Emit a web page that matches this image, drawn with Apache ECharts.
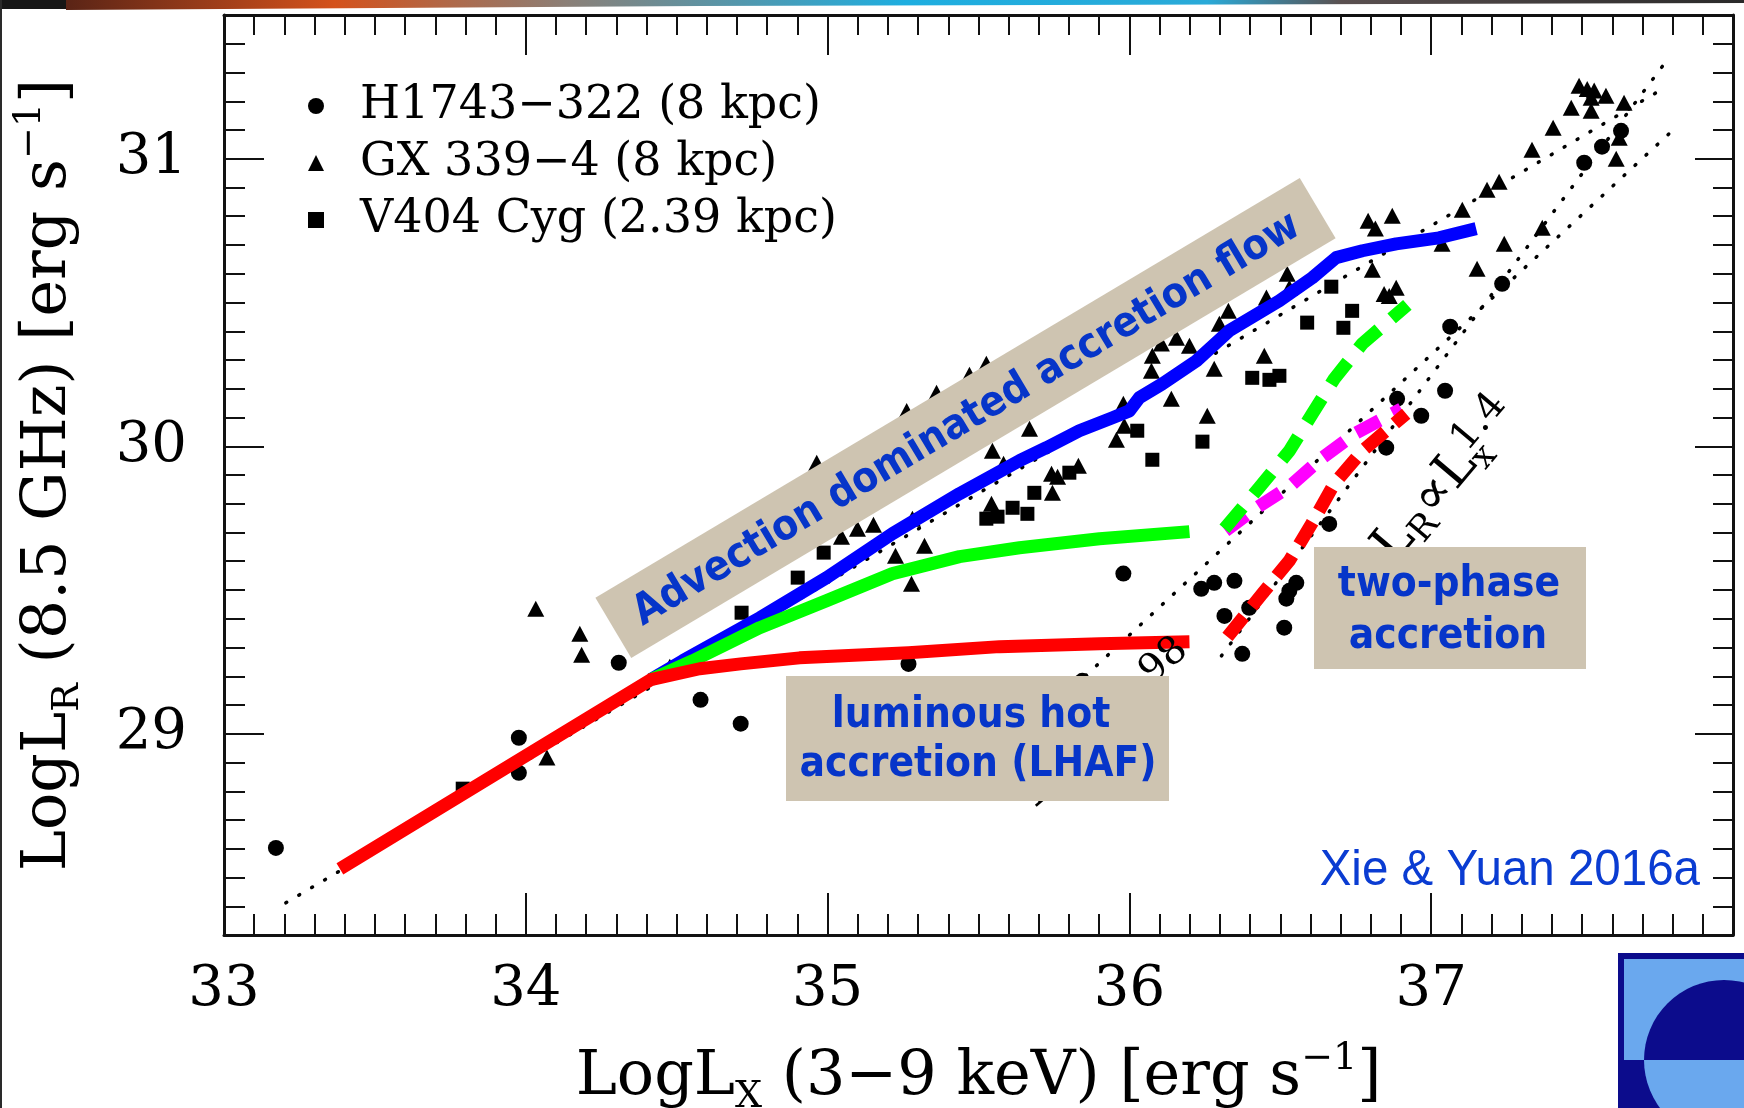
<!DOCTYPE html>
<html>
<head>
<meta charset="utf-8">
<script src="https://cdn.jsdelivr.net/npm/echarts@6/dist/echarts.min.js"></script>
<style>
  html, body { margin: 0; padding: 0; background: #ffffff; }
  #chart { width: 1744px; height: 1108px; }
</style>
</head>
<body>
<div id="chart"></div>
<script>
// ---- axis ranges and tick labels ----
const xRange = [33, 38];
const yRange = [28.3, 31.5];
const xTickLabels = [33, 34, 35, 36, 37];
const yTickLabels = [29, 30, 31];

// ---- observed sources: [log Lx, log Lr] ----
const h1743 = [
  [33.172, 28.603], [33.977, 28.986], [33.977, 28.864], [34.308, 29.247], [34.579, 29.118],
  [34.712, 29.035], [35.268, 29.243], [35.980, 29.557], [35.844, 29.184], [36.238, 29.504],
  [36.281, 29.525], [36.348, 29.532], [36.315, 29.410], [36.397, 29.438], [36.374, 29.278],
  [36.553, 29.525], [36.530, 29.497], [36.520, 29.470], [36.513, 29.369], [36.662, 29.730],
  [36.851, 29.995], [36.887, 30.165], [36.967, 30.106], [37.046, 30.193], [37.063, 30.416],
  [37.235, 30.565], [37.507, 30.986], [37.566, 31.042], [37.629, 31.097]
];
const gx339 = [
  [34.070, 28.917], [34.033, 29.435], [34.179, 29.348], [34.185, 29.275], [34.477, 29.233],
  [35.046, 29.685], [35.099, 29.713], [35.152, 29.727], [35.225, 29.619], [35.281, 29.748],
  [35.278, 29.522], [35.321, 29.654], [35.543, 29.800], [35.546, 29.984], [35.583, 29.939],
  [35.669, 30.061], [35.745, 29.838], [35.742, 29.904], [35.762, 29.894], [35.831, 29.932],
  [35.957, 30.023], [35.983, 30.071], [35.980, 30.148], [36.073, 30.263], [36.076, 30.315],
  [36.106, 30.357], [36.156, 30.377], [36.199, 30.350], [36.139, 30.165], [36.258, 30.106],
  [36.281, 30.270], [36.298, 30.426], [36.328, 30.471], [36.447, 30.315], [36.454, 30.517],
  [36.523, 30.600], [36.530, 30.551], [36.805, 30.614], [36.791, 30.784], [36.815, 30.757],
  [36.871, 30.802], [36.844, 30.530], [36.884, 30.551], [36.861, 30.523], [37.036, 30.704],
  [37.103, 30.823], [37.185, 30.892], [37.225, 30.920], [37.334, 31.031], [37.404, 31.108],
  [37.464, 31.177], [37.530, 31.167], [37.490, 31.254], [37.517, 31.243], [37.540, 31.237],
  [37.579, 31.219], [37.530, 31.212], [37.639, 31.195], [37.613, 31.000], [37.623, 31.073],
  [37.368, 30.760], [37.242, 30.704], [37.152, 30.617],
  [34.964, 29.943], [35.262, 30.123], [35.361, 30.186], [35.470, 30.249], [35.526, 30.287]
];
const v404 = [
  [33.791, 28.809], [34.715, 29.421], [34.901, 29.543], [34.987, 29.630], [35.526, 29.748],
  [35.563, 29.755], [35.613, 29.786], [35.662, 29.765], [35.685, 29.838], [35.801, 29.908],
  [36.026, 30.054], [36.076, 29.953], [36.242, 30.016], [36.407, 30.238], [36.464, 30.231],
  [36.497, 30.245], [36.589, 30.430], [36.709, 30.412], [36.738, 30.471], [36.669, 30.555]
];

// ---- model tracks ----
const hotFlowRed = [
  [33.384, 28.530], [34.414, 29.188], [34.576, 29.226], [34.712, 29.243], [34.907, 29.264],
  [35.268, 29.282], [35.570, 29.303], [35.901, 29.313], [36.199, 29.320]
];
const adafBlue = [
  [34.414, 29.188], [34.520, 29.254], [34.775, 29.403], [34.997, 29.543], [35.215, 29.696],
  [35.437, 29.835], [35.636, 29.950], [35.725, 29.995], [35.834, 30.054], [35.944, 30.099],
  [36.000, 30.123], [36.033, 30.169], [36.109, 30.217], [36.222, 30.297], [36.331, 30.402],
  [36.497, 30.506], [36.606, 30.586], [36.685, 30.656], [36.772, 30.680], [36.884, 30.704],
  [37.026, 30.725], [37.149, 30.757]
];
const hotFlowGreen = [
  [34.414, 29.188], [34.553, 29.254], [34.775, 29.369], [34.997, 29.463], [35.215, 29.557],
  [35.437, 29.616], [35.636, 29.647], [35.901, 29.678], [36.199, 29.703]
];
const twoPhaseGreen = [
  [36.315, 29.713], [36.430, 29.856], [36.530, 29.984], [36.606, 30.113], [36.679, 30.235],
  [36.772, 30.357], [36.921, 30.492]
];
const twoPhaseMagenta = [
  [36.318, 29.706], [36.407, 29.776], [36.530, 29.859], [36.639, 29.960], [36.752, 30.047],
  [36.901, 30.130]
];
const twoPhaseRed = [
  [36.325, 29.337], [36.440, 29.487], [36.530, 29.602], [36.606, 29.734], [36.679, 29.870],
  [36.772, 29.984], [36.917, 30.113]
];

// ---- empirical correlations (dotted) ----
const corrStandard = [[33.205, 28.412], [37.778, 31.250]];
const corr098 = [[35.600, 28.953], [37.788, 31.087]];
const corr14 = [[36.305, 29.271], [37.785, 31.348]];

const SERIF = 'DejaVu Serif';
const SANS = 'DejaVu Sans';
const BOX_FILL = '#cec4b1';
const NOTE_BLUE = '#0635c9';

const chart = echarts.init(document.getElementById('chart'), null, { renderer: 'canvas' });

const titleRich = {
  a: { fontFamily: SERIF, fontSize: 62, lineHeight: 76, color: '#000' },
  sub: { fontFamily: SERIF, fontSize: 38, lineHeight: 38, verticalAlign: 'bottom', color: '#000' },
  sup: { fontFamily: SERIF, fontSize: 38, lineHeight: 38, verticalAlign: 'top', color: '#000' }
};

const frameLine = { color: '#111', width: 3 };
const tickLine = { color: '#111', width: 2 };

function xAxisDef(pos, major, minor, withLabels) {
  return {
    type: 'value', gridIndex: 0, position: pos,
    min: xRange[0], max: xRange[1], interval: 1,
    axisLine: { show: true, onZero: false, lineStyle: frameLine },
    axisTick: { show: true, inside: true, length: major, lineStyle: tickLine },
    minorTick: { show: true, splitNumber: 10, length: minor, lineStyle: tickLine },
    splitLine: { show: false }, minorSplitLine: { show: false },
    axisLabel: withLabels ? {
      show: true, margin: 27, fontFamily: SERIF, fontSize: 56, color: '#000',
      formatter: v => (xTickLabels.indexOf(Math.round(v)) >= 0 && Math.abs(v - Math.round(v)) < 1e-6) ? String(Math.round(v)) : ''
    } : { show: false }
  };
}
function yMinorDef(pos, len, line, withLabels) {
  return {
    type: 'value', gridIndex: 0, position: pos,
    min: yRange[0], max: yRange[1], interval: 0.1,
    axisLine: { show: line, onZero: false, lineStyle: frameLine },
    axisTick: { show: true, inside: true, length: len, lineStyle: tickLine },
    splitLine: { show: false },
    axisLabel: withLabels ? {
      show: true, margin: 37, fontFamily: SERIF, fontSize: 56, color: '#000', padding: [6, 0, 0, 0],
      formatter: v => {
        const r = Math.round(v);
        return (Math.abs(v - r) < 1e-6 && yTickLabels.indexOf(r) >= 0) ? String(r) : '';
      }
    } : { show: false }
  };
}
function yMajorDef(pos, len) {
  return {
    type: 'value', gridIndex: 0, position: pos,
    min: yRange[0], max: yRange[1],
    axisLine: { show: false, onZero: false },
    axisTick: { show: true, inside: true, length: len, lineStyle: tickLine, customValues: yTickLabels },
    splitLine: { show: false },
    axisLabel: { show: false }
  };
}

const xBottom = xAxisDef('bottom', 42, 21, true);
xBottom.name = '{a|LogL}{sub|X}{a| (3\u22129 keV) [erg s}{sup|\u22121}{a|]}';
xBottom.nameLocation = 'middle';
xBottom.nameGap = 105;
xBottom.nameTextStyle = { rich: titleRich };

const yLeft = yMinorDef('left', 21, true, true);
yLeft.name = '{a|LogL}{sub|R}{a| (8.5 GHz) [erg s}{sup|\u22121}{a|]}';
yLeft.nameLocation = 'middle';
yLeft.nameRotate = 90;
yLeft.nameGap = 137;
yLeft.nameTextStyle = { rich: titleRich };

function dotted(data) {
  return {
    type: 'line', data, xAxisIndex: 0, yAxisIndex: 0, symbol: 'none', z: 1, silent: true,
    lineStyle: { color: '#000', width: 3.5, type: [1, 14], cap: 'round' }
  };
}
function track(data, color, dash, z) {
  return {
    type: 'line', data, xAxisIndex: 0, yAxisIndex: 0, symbol: 'none', z, silent: true,
    lineStyle: { color, width: 13, type: dash || 'solid', cap: 'butt', join: 'round' }
  };
}
function points(name, data, symbol, size) {
  return {
    type: 'scatter', name, data, xAxisIndex: 0, yAxisIndex: 0, symbol, symbolSize: size,
    z: 3, silent: true, itemStyle: { color: '#000', opacity: 1 }
  };
}

// ---- "L_R ∝ L_x^k" labels: main text plus an exponent stacked over the subscript ----
const LBL_MAIN = 52, LBL_SUB = 35, LBL_SUP = 39;
const measureCtx = document.createElement('canvas').getContext('2d');
function textWidth(str, size) {
  measureCtx.font = size + 'px "' + SERIF + '"';
  return measureCtx.measureText(str).width;
}
const supStart = textWidth('L', LBL_MAIN) + textWidth('R', LBL_SUB) + textWidth('\u221dL', LBL_MAIN) + 2;
const SUP_Y = -13;

function corrLabelGroup(ox, oy, angleDeg, exp) {
  return {
    type: 'group', x: ox, y: oy, rotation: angleDeg * Math.PI / 180, silent: true,
    children: [
      {
        type: 'text', z: 10, x: 0, y: 0,
        style: {
          text: '{a|L}{sub|R}{a|\u221dL}{sub|x}',
          align: 'left', verticalAlign: 'middle',
          rich: {
            a: { fontFamily: SERIF, fontSize: LBL_MAIN, lineHeight: 62, fill: '#000' },
            sub: { fontFamily: SERIF, fontSize: LBL_SUB, lineHeight: 33, verticalAlign: 'bottom', fill: '#000' }
          }
        }
      },
      {
        type: 'text', z: 10, x: supStart, y: SUP_Y,
        style: { text: exp, font: LBL_SUP + 'px "' + SERIF + '"', fill: '#000', align: 'left', verticalAlign: 'middle' }
      }
    ]
  };
}
// place a label so that a given local point lands on a given screen point
function anchorFor(targetX, targetY, lx, ly, angleDeg) {
  const t = angleDeg * Math.PI / 180;
  const sx = lx * Math.cos(t) + ly * Math.sin(t);
  const sy = -lx * Math.sin(t) + ly * Math.cos(t);
  return [targetX - sx, targetY - sy];
}
const label14 = corrLabelGroup(1384, 556, 50, '1.4');
const tail98 = supStart + textWidth('0.', LBL_SUP) + textWidth('98', LBL_SUP) / 2;
const a098 = anchorFor(1164, 661, tail98, SUP_Y, 41);
const label098 = corrLabelGroup(a098[0], a098[1], 41, '0.98');

const noteFont = 'bold 42px "' + SANS + '"';

const option = {
  animation: false,
  backgroundColor: '#ffffff',
  grid: { left: 224, top: 15, width: 1509, height: 920, containLabel: false, outerBoundsMode: 'none' },
  xAxis: [xBottom, xAxisDef('top', 40, 20, false)],
  yAxis: [yLeft, yMajorDef('left', 40), yMinorDef('right', 20, true, false), yMajorDef('right', 38)],
  legend: {
    show: true, orient: 'vertical', left: 303, top: 78,
    itemWidth: 16, itemHeight: 16, itemGap: 11, selectedMode: false,
    data: [
      { name: 'H1743\u2212322 (8 kpc)', icon: 'circle' },
      { name: 'GX 339\u22124 (8 kpc)', icon: 'triangle' },
      { name: 'V404 Cyg (2.39 kpc)', icon: 'rect' }
    ],
    textStyle: { fontFamily: SERIF, fontSize: 46, lineHeight: 46, color: '#000', padding: [0, 0, 0, 31] }
  },
  series: [
    dotted(corrStandard),
    dotted(corr098),
    dotted(corr14),
    points('H1743\u2212322 (8 kpc)', h1743, 'circle', 16),
    points('GX 339\u22124 (8 kpc)', gx339, 'triangle', [17, 16]),
    points('V404 Cyg (2.39 kpc)', v404, 'rect', 14),
    track(adafBlue, '#0000ff', null, 4),
    track(hotFlowGreen, '#00ff00', null, 5),
    track(hotFlowRed, '#ff0000', null, 6),
    track(twoPhaseMagenta, '#ff00ff', [26, 15], 5),
    track(twoPhaseGreen, '#00ff00', [28, 17], 6),
    track(twoPhaseRed, '#ff0000', [26, 13], 7)
  ],
  graphic: [
    // slide header strip and border
    {
      type: 'polygon', z: 1, silent: true,
      shape: { points: [[66, 0], [1744, 0], [1744, 3], [700, 6], [66, 10]] },
      style: {
        fill: {
          type: 'linear', x: 0, y: 0, x2: 1, y2: 0,
          colorStops: [
            { offset: 0, color: '#5a2416' }, { offset: 0.16, color: '#d4521c' },
            { offset: 0.30, color: '#8a8078' }, { offset: 0.50, color: '#1eaee0' },
            { offset: 0.68, color: '#2aaad8' }, { offset: 0.76, color: '#5a5050' },
            { offset: 1, color: '#2a2a2a' }
          ]
        }
      }
    },
    { type: 'rect', z: 1, silent: true, shape: { x: 0, y: 0, width: 66, height: 9 }, style: { fill: '#161616' } },
    { type: 'rect', z: 1, silent: true, shape: { x: 0, y: 0, width: 2, height: 1108 }, style: { fill: '#2a2a2a' } },

    // correlation labels
    label14,
    label098,

    // ADAF band
    {
      type: 'rect', z: 100, silent: true, x: 965.5, y: 418, rotation: 30.8 * Math.PI / 180,
      shape: { x: -410, y: -35, width: 820, height: 70 }, style: { fill: BOX_FILL }
    },
    {
      type: 'text', z: 101, silent: true, x: 967, y: 420, rotation: 30.8 * Math.PI / 180, scaleX: 0.9,
      style: { text: 'Advection dominated accretion flow', font: noteFont, fill: NOTE_BLUE, align: 'center', verticalAlign: 'middle' }
    },

    // LHAF note
    { type: 'rect', z: 100, silent: true, shape: { x: 786, y: 676, width: 383, height: 125 }, style: { fill: BOX_FILL } },
    {
      type: 'text', z: 101, silent: true, x: 971, y: 716, scaleX: 0.9,
      style: { text: 'luminous hot', font: noteFont, fill: NOTE_BLUE, align: 'center', verticalAlign: 'middle' }
    },
    {
      type: 'text', z: 101, silent: true, x: 978, y: 765, scaleX: 0.9,
      style: { text: 'accretion (LHAF)', font: noteFont, fill: NOTE_BLUE, align: 'center', verticalAlign: 'middle' }
    },

    // two-phase note
    { type: 'rect', z: 100, silent: true, shape: { x: 1314, y: 547, width: 272, height: 122 }, style: { fill: BOX_FILL } },
    {
      type: 'text', z: 101, silent: true, x: 1449, y: 585, scaleX: 0.9,
      style: { text: 'two-phase', font: noteFont, fill: NOTE_BLUE, align: 'center', verticalAlign: 'middle' }
    },
    {
      type: 'text', z: 101, silent: true, x: 1448, y: 637, scaleX: 0.9,
      style: { text: 'accretion', font: noteFont, fill: NOTE_BLUE, align: 'center', verticalAlign: 'middle' }
    },

    // reference credit
    {
      type: 'text', z: 101, silent: true, x: 1700, y: 871, scaleX: 0.95,
      style: { text: 'Xie & Yuan 2016a', font: '50px "Liberation Sans"', fill: '#0a3cd2', align: 'right', verticalAlign: 'middle' }
    },

    // corner emblem
    { type: 'rect', z: 1, silent: true, shape: { x: 1618, y: 953, width: 126, height: 155 }, style: { fill: '#0c0c8c' } },
    { type: 'rect', z: 2, silent: true, shape: { x: 1624, y: 959, width: 120, height: 101 }, style: { fill: '#6aa8ee' } },
    { type: 'sector', z: 3, silent: true, shape: { cx: 1724, cy: 1060, r0: 0, r: 80, startAngle: Math.PI, endAngle: 2 * Math.PI, clockwise: true }, style: { fill: '#0c0c8c' } },
    { type: 'sector', z: 3, silent: true, shape: { cx: 1724, cy: 1060, r0: 0, r: 80, startAngle: 0, endAngle: Math.PI, clockwise: true }, style: { fill: '#6aa8ee' } }
  ]
};

chart.setOption(option);
</script>
</body>
</html>
